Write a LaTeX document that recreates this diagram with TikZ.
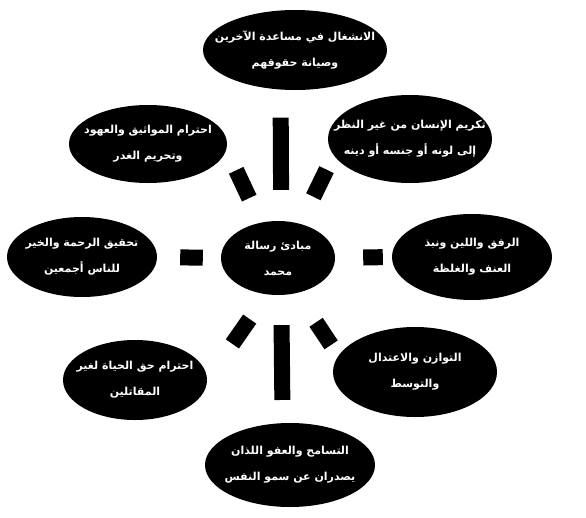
\documentclass[tikz,border=0pt]{standalone}
\usepackage{fontspec}
\newfontfamily\arabicfont[Script=Arabic]{DejaVu Sans}
\TeXXeTstate=1
\usetikzlibrary{shapes.geometric}
\newcommand{\arline}[1]{\beginR #1\endR}

\begin{document}
\begin{tikzpicture}[x=1pt,y=-1pt,
    oval/.style={ellipse,fill=black,inner sep=0pt},
    txt/.style={text=white,align=center,font=\arabicfont\bfseries\fontsize{11}{26}\selectfont},
    bar/.style={line width=16pt}]
  \useasboundingbox (0,0) rectangle (586,517);
  % centre
  \node [oval,minimum width=114,minimum height=74] (c) at (278,258) {};
  \node [txt] (c-t) at (c) {\arline{مبادئ رسالة}\\\arline{محمد}};
  % ring of principles
  \node [oval,minimum width=184,minimum height=80] (top) at (295,50) {};
  \node [txt] (top-t) at (top) {\arline{الانشغال في مساعدة الآخرين}\\\arline{وصيانة حقوقهم}};
  \node [oval,minimum width=158,minimum height=78] (ul) at (148,144) {};
  \node [txt] (ul-t) at (ul) {\arline{احترام المواثيق والعهود}\\\arline{وتحريم الغدر}};
  \node [oval,minimum width=164,minimum height=88] (ur) at (410,139) {};
  \node [txt] (ur-t) at (ur) {\arline{تكريم الإنسان من غير النظر}\\\arline{إلى لونه أو جنسه أو دينه}};
  \node [oval,minimum width=150,minimum height=80] (left) at (82,257) {};
  \node [txt] (left-t) at (left) {\arline{تحقيق الرحمة والخير}\\\arline{للناس أجمعين}};
  \node [oval,minimum width=160,minimum height=86] (right) at (472,257) {};
  \node [txt] (right-t) at (right) {\arline{الرفق واللين ونبذ}\\\arline{العنف والغلظة}};
  \node [oval,minimum width=144,minimum height=80] (ll) at (135,380) {};
  \node [txt] (ll-t) at (ll) {\arline{احترام حق الحياة لغير}\\\arline{المقاتلين}};
  \node [oval,minimum width=164,minimum height=90] (lr) at (415,372) {};
  \node [txt] (lr-t) at (lr) {\arline{التوازن والاعتدال}\\\arline{والتوسط}};
  \node [oval,minimum width=170,minimum height=84] (bot) at (290,465) {};
  \node [txt] (bot-t) at (bot) {\arline{التسامح والعفو اللذان}\\\arline{يصدران عن سمو النفس}};
  % bars
  \draw [bar,shorten <=31pt,shorten >=28pt] (c.85) -- (top.-110);
  \draw [bar,shorten <=27pt,shorten >=23pt] (c.116) -- (ul.-4);
  \draw [bar,shorten <=30pt,shorten >=16pt] (c.57) -- (ur.192);
  \draw [bar,shorten <=18pt,shorten >=23pt] (c.west) -- (left.east);
  \draw [bar,shorten <=28pt,shorten >=9pt] (c.east) -- (right.west);
  \draw [bar,shorten <=30pt,shorten >=44pt] (c.253) -- (ll.east);
  \draw [bar,shorten <=35pt,shorten >=13pt] (c.-62) -- (lr.168);
  \draw [bar,shorten <=30pt,shorten >=23pt] (c.-85) -- (bot.100);
\end{tikzpicture}
\end{document}
